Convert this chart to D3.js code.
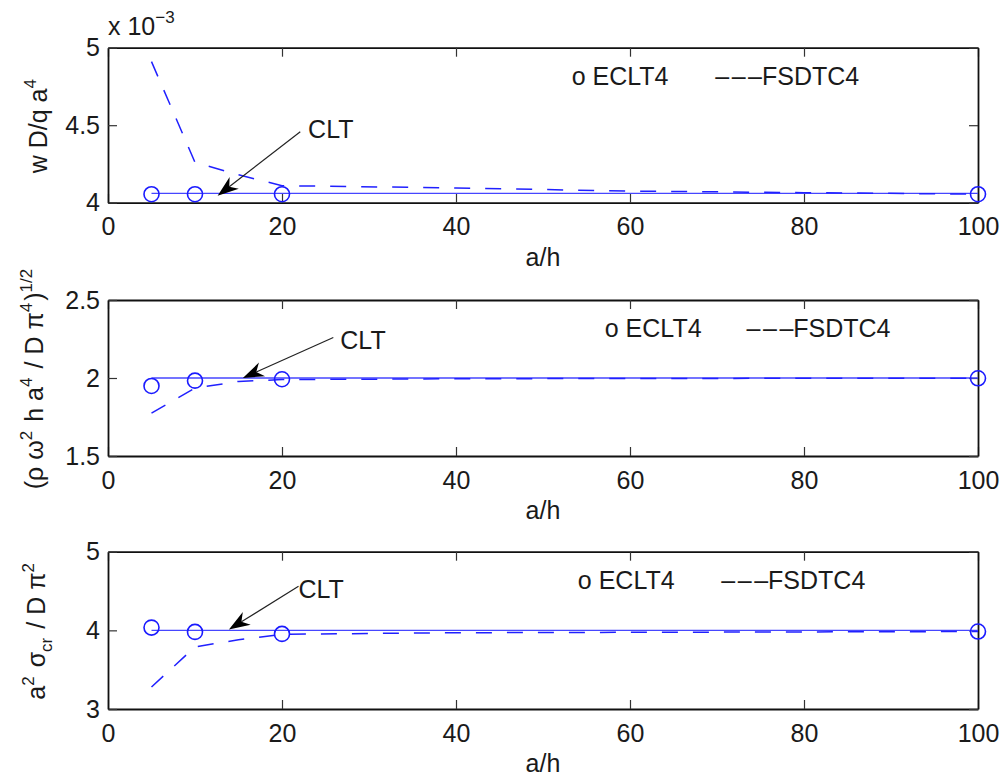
<!DOCTYPE html>
<html>
<head>
<meta charset="utf-8">
<script src="https://cdn.jsdelivr.net/npm/d3@7"></script>
<style>
  body { margin: 0; background: #fff; }
  svg { display: block; font-family: "Liberation Sans", Arial, sans-serif; }
</style>
</head>
<body>
<div id="chart"></div>
<script>
// a/h values
const ahECLT = [5, 10, 20, 100];
const ahFSDT = [5, 10, 15, 20, 40, 60, 80, 100];
const ahCLT = [5, 100];
const xTicks = [0, 20, 40, 60, 80, 100];

// deflection w D / q a^4
const w_ECLT4 = [0.004055, 0.004055, 0.004055, 0.004055];
const w_FSDTC4 = [0.00491, 0.00426, 0.00418, 0.00411, 0.004095, 0.004075, 0.004065, 0.004055];
const w_CLT = [0.00406, 0.00406];
const w_yTicks = [0.004, 0.0045, 0.005];

// frequency
const f_ECLT4 = [1.949, 1.983, 1.992, 1.998];
const f_FSDTC4 = [1.775, 1.935, 1.978, 1.99, 1.995, 1.997, 1.998, 1.998];
const f_CLT = [2, 2];
const f_yTicks = [1.5, 2, 2.5];

// buckling
const b_ECLT4 = [4.035, 3.98, 3.955, 3.985];
const b_FSDTC4 = [3.28, 3.79, 3.88, 3.95, 3.97, 3.975, 3.98, 3.985];
const b_CLT = [4, 4];
const b_yTicks = [3, 4, 5];

const width = 1005, height = 782;
const left = 108, right = 978;
const fontSize = 25;

const svg = d3.select('#chart').append('svg')
    .attr('width', width)
    .attr('height', height);

const x = d3.scaleLinear().domain([0, 100]).range([left, right]);

function drawPanel(p) {
    const y = d3.scaleLinear().domain(p.yDomain).range([p.bottom, p.top]);
    const g = svg.append('g');

    // axes, ticks inside like matlab
    const xa = g.append('g')
        .attr('transform', `translate(0,${p.bottom})`)
        .call(d3.axisBottom(x).tickValues(xTicks).tickSizeInner(-9).tickSizeOuter(0).tickPadding(15));
    const xt = g.append('g')
        .attr('transform', `translate(0,${p.top})`)
        .call(d3.axisTop(x).tickValues(xTicks).tickSizeInner(-9).tickSizeOuter(0).tickFormat(''));
    const ya = g.append('g')
        .attr('transform', `translate(${left},0)`)
        .call(d3.axisLeft(y).tickValues(p.yTicks).tickSizeInner(-9).tickSizeOuter(0).tickPadding(8).tickFormat(p.fmt));
    const yr = g.append('g')
        .attr('transform', `translate(${right},0)`)
        .call(d3.axisRight(y).tickValues(p.yTicks).tickSizeInner(-9).tickSizeOuter(0).tickFormat(''));

    [xa, xt, ya, yr].forEach(a => {
        a.attr('font-size', fontSize).attr('font-family', null);
        a.selectAll('text').attr('fill', '#1a1a1a');
        a.selectAll('line').attr('stroke', '#333').attr('stroke-width', 1.2);
        a.select('.domain').attr('stroke', '#111').attr('stroke-width', 1.8);
    });

    // CLT solid line
    g.append('path')
        .datum(ahCLT.map((d, i) => [d, p.clt[i]]))
        .attr('fill', 'none')
        .attr('stroke', '#4646ff')
        .attr('stroke-width', 1.3)
        .attr('d', d3.line().x(d => x(d[0])).y(d => y(d[1])));

    // FSDTC4 dashed
    g.append('path')
        .datum(ahFSDT.map((d, i) => [d, p.fsdt[i]]))
        .attr('fill', 'none')
        .attr('stroke', '#2020ff')
        .attr('stroke-width', 1.5)
        .attr('stroke-dasharray', '16,15')
        .attr('d', d3.line().x(d => x(d[0])).y(d => y(d[1])));

    // ECLT4 circles
    g.append('g')
        .selectAll('circle')
        .data(ahECLT.map((d, i) => [d, p.eclt[i]]))
        .join('circle')
        .attr('cx', d => x(d[0]))
        .attr('cy', d => y(d[1]))
        .attr('r', 7.5)
        .attr('fill', 'none')
        .attr('stroke', '#1a1aff')
        .attr('stroke-width', 1.6);

    // legend (plain text like gtext)
    const ly = p.top + 37;
    g.append('text').attr('x', x(p.leg[0])).attr('y', ly)
        .attr('font-size', fontSize).attr('fill', '#1a1a1a').text('o ECLT4');
    const lg2 = g.append('text').attr('x', x(p.leg[1])).attr('y', ly)
        .attr('font-size', fontSize).attr('fill', '#1a1a1a');
    lg2.append('tspan').attr('letter-spacing', 2.5).text('\u2013\u2013\u2013');
    lg2.append('tspan').attr('dx', -2.5).text('FSDTC4');

    // CLT arrow
    const tx = x(p.tip[0]), ty = y(p.tip[1]);
    const sx = x(p.tail[0]), sy = y(p.tail[1]);
    const ang = Math.atan2(ty - sy, tx - sx);
    const L = 21, W = 7.5;
    const pt = (a, b) => [tx + a * Math.cos(ang) - b * Math.sin(ang), ty + a * Math.sin(ang) + b * Math.cos(ang)];
    g.append('line')
        .attr('x1', sx).attr('y1', sy)
        .attr('x2', pt(-L * 0.7, 0)[0]).attr('y2', pt(-L * 0.7, 0)[1])
        .attr('stroke', '#222').attr('stroke-width', 1.2);
    g.append('path')
        .attr('d', 'M' + [pt(0, 0), pt(-L, W), pt(-L * 0.7, 0), pt(-L, -W)].join('L') + 'Z')
        .attr('fill', '#000');
    g.append('text').attr('x', x(p.cltText[0])).attr('y', y(p.cltText[1]))
        .attr('font-size', fontSize).attr('fill', '#1a1a1a').text('CLT');

    // x label
    g.append('text')
        .attr('x', (left + right) / 2)
        .attr('y', p.bottom + 63)
        .attr('text-anchor', 'middle')
        .attr('font-size', fontSize).attr('fill', '#1a1a1a')
        .text('a/h');

    // y label with super/subscripts
    const yl = g.append('text')
        .attr('transform', `translate(${p.labelX},${(p.top + p.bottom) / 2}) rotate(-90)`)
        .attr('text-anchor', 'middle')
        .attr('font-size', fontSize).attr('fill', '#1a1a1a');
    p.ylabel.forEach(part => {
        const t = yl.append('tspan').text(part[0]);
        if (part[1] === 'sup') {
            t.attr('font-size', 17).attr('dy', -11);
            yl.append('tspan').attr('dy', 11).text('\u200a');
        } else if (part[1] === 'sub') {
            t.attr('font-size', 17).attr('dy', 7);
            yl.append('tspan').attr('dy', -7).text('\u200a');
        }
    });

    return y;
}

drawPanel({
    top: 47.7, bottom: 202.7,
    yDomain: [0.004, 0.005], yTicks: w_yTicks,
    fmt: d => +(d * 1000).toFixed(2),
    eclt: w_ECLT4, fsdt: w_FSDTC4, clt: w_CLT,
    leg: [53.3, 69.8],
    tip: [12.6, 0.004045], tail: [22.1, 0.004458], cltText: [23, 0.004417],
    labelX: 47,
    ylabel: [['w D/q a'], ['4', 'sup']]
});

drawPanel({
    top: 300, bottom: 456,
    yDomain: [1.5, 2.5], yTicks: f_yTicks,
    fmt: d => d,
    eclt: f_ECLT4, fsdt: f_FSDTC4, clt: f_CLT,
    leg: [57.1, 73.4],
    tip: [15.5, 2.0], tail: [25.9, 2.26], cltText: [26.7, 2.185],
    labelX: 43,
    ylabel: [['(\u03c1 \u03c9'], ['2', 'sup'], [' h a'], ['4', 'sup'], [' / D \u03c0'], ['4', 'sup'], [')'], ['1/2', 'sup']]
});

drawPanel({
    top: 551.7, bottom: 709,
    yDomain: [3, 5], yTicks: b_yTicks,
    fmt: d => d,
    eclt: b_ECLT4, fsdt: b_FSDTC4, clt: b_CLT,
    leg: [54, 70.5],
    tip: [13.9, 4.01], tail: [21.9, 4.56], cltText: [21.9, 4.41],
    labelX: 45,
    ylabel: [['a'], ['2', 'sup'], [' \u03c3'], ['cr', 'sub'], [' / D \u03c0'], ['2', 'sup']]
});

// exponent note on top panel
const ex = svg.append('text')
    .attr('x', left).attr('y', 35)
    .attr('font-size', fontSize).attr('fill', '#1a1a1a');
ex.append('tspan').text('x 10');
ex.append('tspan').attr('font-size', 17).attr('dy', -12).text('\u22123');
</script>
</body>
</html>
